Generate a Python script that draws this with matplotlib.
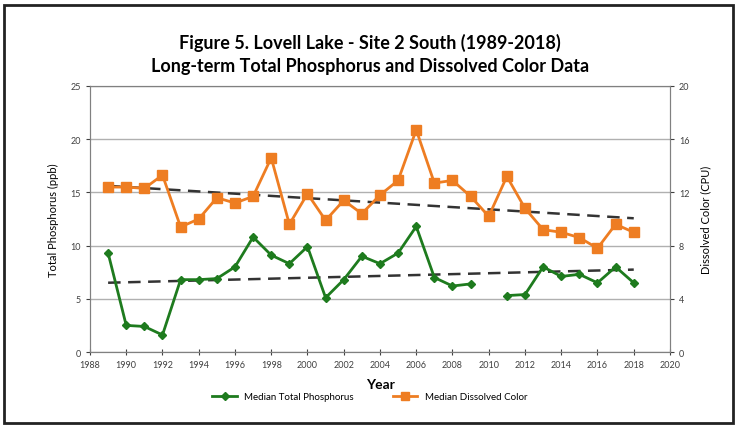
import numpy as np
import matplotlib.pyplot as plt
from matplotlib.patches import Rectangle

plt.rcParams['font.family'] = ['Lato', 'DejaVu Sans']

years = list(range(1989, 2019))
# median total phosphorus (ppb), 2010 missing
phosphorus = [9.3, 2.5, 2.4, 1.6, 6.8, 6.8, 6.9, 8.0, 10.8, 9.1,
              8.3, 9.9, 5.1, 6.8, 9.0, 8.3, 9.3, 11.8, 7.0, 6.2,
              6.4, np.nan, 5.3, 5.4, 8.0, 7.1, 7.3, 6.5, 8.0, 6.5]
# median dissolved color (CPU)
color = [12.4, 12.4, 12.3, 13.3, 9.4, 10.0, 11.6, 11.2, 11.7, 14.6,
         9.6, 11.9, 9.9, 11.4, 10.4, 11.8, 12.9, 16.7, 12.7, 12.9,
         11.7, 10.2, 13.2, 10.8, 9.2, 9.0, 8.6, 7.8, 9.6, 9.0]

green = '#1e7b1e'
orange = '#ee7d22'

fig = plt.figure(figsize=(7.4, 4.27), dpi=100)
ax = fig.add_axes([0.1216, 0.1733, 0.7838, 0.623])
ax2 = ax.twinx()

x = np.array(years)
tp = np.array(phosphorus)
dc = np.array(color)

# trend lines (least squares)
ok = ~np.isnan(tp)
p_tp = np.polyfit(x[ok], tp[ok], 1)
p_dc = np.polyfit(x, dc, 1)

ax.plot(x, tp, color=green, marker='D', markersize=4.5, lw=2, zorder=3,
        label='Median Total Phosphorus')
ax.plot(x, np.polyval(p_tp, x), color='#333333', lw=1.8, ls=(0, (5, 3)), zorder=2)
ax2.plot(x, dc, color=orange, marker='s', markersize=7, lw=2, zorder=3,
         label='Median Dissolved Color')
ax2.plot(x, np.polyval(p_dc, x), color='#333333', lw=1.8, ls=(0, (5, 3)), zorder=2)

ax.set_xlim(1988, 2020)
ax.set_ylim(0, 25)
ax2.set_ylim(0, 20)
ax.set_xticks(range(1988, 2021, 2))
ax.set_yticks(range(0, 26, 5))
ax2.set_yticks(range(0, 21, 4))
ax.grid(axis='y', color='#b0b0b0', lw=1)
ax.set_axisbelow(True)

for a in (ax, ax2):
    for s in a.spines.values():
        s.set_color('#808080')
    a.tick_params(labelsize=6.5, colors='#404040', length=3)
ax.tick_params(axis='x', direction='inout', length=5)

ax.set_xlabel('Year', fontsize=10, fontweight='bold', labelpad=6)
ax.set_ylabel('Total Phosphorus (ppb)', fontsize=8, labelpad=8)
ax2.set_ylabel('Dissolved Color (CPU)', fontsize=8, labelpad=8)

fig.text(0.5, 0.899, 'Figure 5. Lovell Lake - Site 2 South (1989-2018)',
         ha='center', va='center', fontsize=13, fontweight='bold')
fig.text(0.5, 0.845, 'Long-term Total Phosphorus and Dissolved Color Data',
         ha='center', va='center', fontsize=13, fontweight='bold')

h1, l1 = ax.get_legend_handles_labels()
h2, l2 = ax2.get_legend_handles_labels()
fig.legend(h1 + h2, l1 + l2, loc='center', bbox_to_anchor=(0.5, 0.068),
           ncol=2, frameon=False, fontsize=7, handlelength=2.5, columnspacing=4,
           markerscale=0.8)

fig.patches.append(Rectangle((0.006, 0.006), 0.984, 0.981, transform=fig.transFigure,
                             fill=False, edgecolor='#222222', lw=2))

fig.savefig('out.png', dpi=100)
